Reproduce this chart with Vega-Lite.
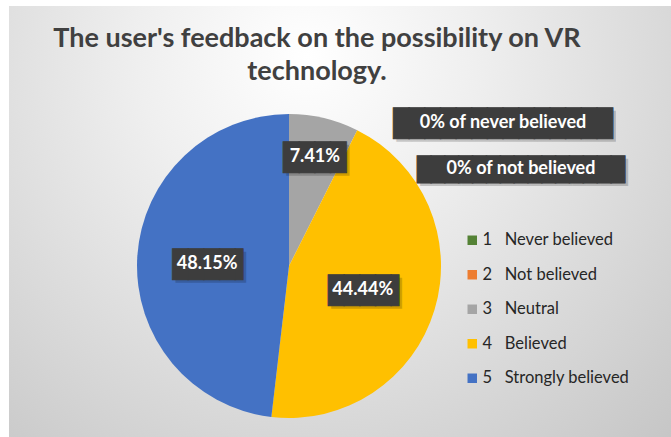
{
  "$schema": "https://vega.github.io/schema/vega-lite/v6.json",
  "width": 671,
  "height": 437,
  "autosize": {"type": "fit", "contains": "padding"},
  "padding": {"left": 9, "top": 6, "right": 0, "bottom": 0},
  "background": "#ffffff",
  "config": {"view": {"stroke": null}},
  "title": {
    "text": ["The user's feedback on the possibility on VR", "technology."],
    "font": "Lato", "fontSize": 27, "fontWeight": "bold", "color": "#404040",
    "anchor": "middle", "frame": "group", "dx": -23, "offset": -80, "lineHeight": 33
  },
  "data": {
    "values": [
      {"category": "1", "name": "Never believed", "value": 0, "note": "0% of never believed"},
      {"category": "2", "name": "Not believed", "value": 0, "note": "0% of not believed"},
      {"category": "3", "name": "Neutral", "value": 0.0741, "note": ""},
      {"category": "4", "name": "Believed", "value": 0.4444, "note": ""},
      {"category": "5", "name": "Strongly believed", "value": 0.4815, "note": ""}
    ]
  },
  "layer": [
    {
      "data": {"values": [{"panel": "background"}]},
      "mark": {"type": "rect", "fill": {"gradient": "radial", "x1": 0.45, "y1": 0.25, "r1": 0, "x2": 0.45, "y2": 0.25, "r2": 0.85,
        "stops": [{"offset": 0, "color": "#ffffff"}, {"offset": 0.3, "color": "#efefef"}, {"offset": 1, "color": "#c2c2c2"}]}},
      "encoding": {}
    },
    {
      "encoding": {
        "theta": {"field": "value", "type": "quantitative", "stack": true},
        "order": {"field": "category", "type": "ordinal", "sort": "ascending"}
      },
      "layer": [
        {
          "mark": {"type": "arc", "outerRadius": 152, "x": 280, "y": 260},
          "encoding": {
            "color": {
              "field": "category", "type": "nominal",
              "scale": {"domain": ["1", "2", "3", "4", "5"], "range": ["#548235", "#ED7D31", "#A5A5A5", "#FFC000", "#4472C4"]},
              "legend": {
                "title": null, "orient": "none", "legendX": 455, "legendY": 226,
                "symbolType": "square", "symbolSize": 90, "symbolStrokeWidth": 0,
                "labelFont": "Lato", "labelFontSize": 16.5, "labelColor": "#262626",
                "rowPadding": 17.5, "labelOffset": 2,
                "labelExpr": "datum.label + '\u00a0\u00a0\u00a0' + {'1': 'Never believed', '2': 'Not believed', '3': 'Neutral', '4': 'Believed', '5': 'Strongly believed'}[datum.label]"
              }
            }
          }
        },
        {
          "mark": {"type": "text", "x": 280, "y": 260, "radius": 112, "dx": 3, "dy": 4, "font": "DejaVu Sans Mono", "fontSize": 26, "color": "#000000", "opacity": 0.18, "baseline": "middle"},
          "encoding": {"text": {"condition": {"test": "datum.category == '3'", "value": "████"}, "value": ""}}
        },
        {
          "mark": {"type": "text", "x": 280, "y": 260, "radius": 112, "dy": 1, "font": "DejaVu Sans Mono", "fontSize": 26, "color": "#3d3d3d", "stroke": "#3d3d3d", "strokeWidth": 1, "baseline": "middle"},
          "encoding": {"text": {"condition": {"test": "datum.category == '3'", "value": "████"}, "value": ""}}
        },
        {
          "mark": {"type": "text", "x": 280, "y": 260, "radius": 112, "font": "Lato", "fontSize": 18, "fontWeight": "bold", "color": "#ffffff", "baseline": "middle"},
          "encoding": {"text": {"condition": {"test": "datum.category == '3'", "field": "value", "format": ".2%"}, "value": ""}}
        },
        {
          "mark": {"type": "text", "x": 280, "y": 260, "radius": 77, "dx": 7.7, "dy": 6, "font": "DejaVu Sans Mono", "fontSize": 26, "color": "#000000", "opacity": 0.18, "baseline": "middle"},
          "encoding": {"text": {"condition": {"test": "datum.category == '4'", "value": "████▌"}, "value": ""}}
        },
        {
          "mark": {"type": "text", "x": 280, "y": 260, "radius": 77, "dx": 4.7, "dy": 3, "font": "DejaVu Sans Mono", "fontSize": 26, "color": "#3d3d3d", "stroke": "#3d3d3d", "strokeWidth": 1, "baseline": "middle"},
          "encoding": {"text": {"condition": {"test": "datum.category == '4'", "value": "████▌"}, "value": ""}}
        },
        {
          "mark": {"type": "text", "x": 280, "y": 260, "radius": 77, "dy": 2, "font": "Lato", "fontSize": 18, "fontWeight": "bold", "color": "#ffffff", "baseline": "middle"},
          "encoding": {"text": {"condition": {"test": "datum.category == '4'", "field": "value", "format": ".2%"}, "value": ""}}
        },
        {
          "mark": {"type": "text", "x": 280, "y": 260, "radius": 82, "dx": 7.7, "dy": 7, "font": "DejaVu Sans Mono", "fontSize": 26, "color": "#000000", "opacity": 0.18, "baseline": "middle"},
          "encoding": {"text": {"condition": {"test": "datum.category == '5'", "value": "████▌"}, "value": ""}}
        },
        {
          "mark": {"type": "text", "x": 280, "y": 260, "radius": 82, "dx": 4.7, "dy": 4, "font": "DejaVu Sans Mono", "fontSize": 26, "color": "#3d3d3d", "stroke": "#3d3d3d", "strokeWidth": 1, "baseline": "middle"},
          "encoding": {"text": {"condition": {"test": "datum.category == '5'", "value": "████▌"}, "value": ""}}
        },
        {
          "mark": {"type": "text", "x": 280, "y": 260, "radius": 82, "dy": 3, "font": "Lato", "fontSize": 18, "fontWeight": "bold", "color": "#ffffff", "baseline": "middle"},
          "encoding": {"text": {"condition": {"test": "datum.category == '5'", "field": "value", "format": ".2%"}, "value": ""}}
        },
        {
          "mark": {"type": "text", "x": 280, "y": 260, "radius": 0, "dx": 217, "dy": -139, "font": "DejaVu Sans Mono", "fontSize": 26, "color": "#000000", "opacity": 0.18, "baseline": "middle"},
          "encoding": {"text": {"condition": {"test": "datum.category == '1'", "value": "██████████████"}, "value": ""}}
        },
        {
          "mark": {"type": "text", "x": 280, "y": 260, "radius": 0, "dx": 214, "dy": -142, "font": "DejaVu Sans Mono", "fontSize": 26, "color": "#3d3d3d", "stroke": "#3d3d3d", "strokeWidth": 1, "baseline": "middle"},
          "encoding": {"text": {"condition": {"test": "datum.category == '1'", "value": "██████████████"}, "value": ""}}
        },
        {
          "mark": {"type": "text", "x": 280, "y": 260, "radius": 0, "dx": 214, "dy": -143, "font": "Lato", "fontSize": 18, "fontWeight": "bold", "color": "#ffffff", "baseline": "middle"},
          "encoding": {"text": {"condition": {"test": "datum.category == '1'", "field": "note"}, "value": ""}}
        },
        {
          "mark": {"type": "text", "x": 280, "y": 260, "radius": 0, "dx": 235, "dy": -93, "font": "DejaVu Sans Mono", "fontSize": 23, "color": "#000000", "opacity": 0.18, "baseline": "middle"},
          "encoding": {"text": {"condition": {"test": "datum.category == '2'", "value": "███████████████"}, "value": ""}}
        },
        {
          "mark": {"type": "text", "x": 280, "y": 260, "radius": 0, "dx": 232, "dy": -96, "font": "DejaVu Sans Mono", "fontSize": 23, "color": "#3d3d3d", "stroke": "#3d3d3d", "strokeWidth": 1, "baseline": "middle"},
          "encoding": {"text": {"condition": {"test": "datum.category == '2'", "value": "███████████████"}, "value": ""}}
        },
        {
          "mark": {"type": "text", "x": 280, "y": 260, "radius": 0, "dx": 232, "dy": -97, "font": "Lato", "fontSize": 18, "fontWeight": "bold", "color": "#ffffff", "baseline": "middle"},
          "encoding": {"text": {"condition": {"test": "datum.category == '2'", "field": "note"}, "value": ""}}
        }
      ]
    }
  ]
}
